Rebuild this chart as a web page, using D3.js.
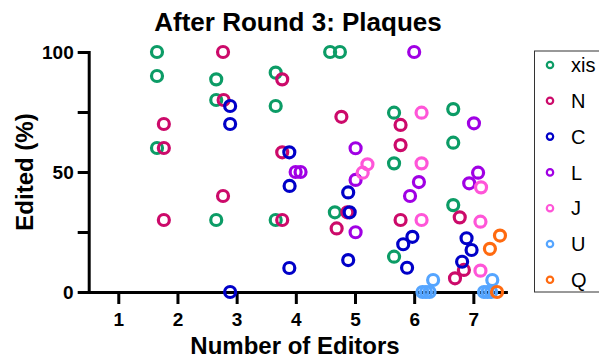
<!DOCTYPE html>
<html>
<head>
<meta charset="utf-8">
<script src="https://cdn.jsdelivr.net/npm/d3@7"></script>
<style>
  html, body { margin: 0; padding: 0; background: #fff; }
  svg { display: block; font-family: "Liberation Sans", Arial, Helvetica, sans-serif; }
</style>
</head>
<body>
<svg id="chart" width="599" height="358"></svg>
<script>
// ---- Data (x = number of editors incl. column offset, y = edited %) ----
const seriesNames = ["xis", "N", "C", "L", "J", "U", "Q"];
const seriesColors = ["#0c9c66", "#cc0a6a", "#0000c8", "#a000e4", "#ff55d8", "#55a5ff", "#ff6a10"];

const xisData = [[1.654,100],[1.654,90],[1.654,60],
  [2.655,88.6],[2.655,80],[2.655,30],
  [3.66,91.4],[3.66,77.5],[3.66,30],
  [4.58,100],[4.745,100],[4.66,33.2],
  [5.66,74.7],[5.66,53.6],[5.66,14.7],
  [6.66,76.2],[6.66,62.2],[6.66,36.2]];
const nData = [[1.77,70],[1.77,60],[1.77,30],
  [2.77,100],[2.78,80],[2.77,40],
  [3.77,88.6],[3.77,58.2],[3.77,30],
  [4.77,73],[4.87,33.2],[4.69,26.5],
  [5.77,69.6],[5.77,61.2],[5.77,30],
  [6.77,31.1],[6.84,9.2],[6.69,5.7]];
const cData = [[2.89,77.5],[2.89,70],[2.89,0],
  [3.89,58.2],[3.895,44.2],[3.89,10],
  [4.885,41.5],[4.91,33.2],[4.885,13.3],
  [5.97,23],[5.815,19.9],[5.88,10.1],
  [6.885,22.4],[6.97,17.5],[6.81,12.6]];
const lData = [[3.997,50],[4.08,50],
  [5.01,59.9],[5.01,46.7],[5.01,24.9],
  [6.0,100],[6.08,45.8],[5.93,40],
  [7.01,70.3],[7.08,49.7],[6.93,45.3]];
const jData = [[5.21,53.2],[5.13,49.7],
  [6.125,74.7],[6.125,53.6],[6.125,30],
  [7.13,43.6],[7.12,29.3],[7.12,8.9]];
const uData = [[6.32,5],[6.14,0],[6.2,0],[6.26,0],
  [7.32,5],[7.18,0],[7.24,0],[7.3,0]];
const qData = [[7.45,23.5],[7.28,18],[7.40,0]];
const allSeries = [xisData, nData, cData, lData, jData, uData, qData];

const xTicks = [1, 2, 3, 4, 5, 6, 7];
const yTicks = [0, 25, 50, 75, 100];
const yLabelTicks = [0, 50, 100];

const titleText = "After Round 3: Plaques";
const xLabelText = "Number of Editors";
const yLabelText = "Edited (%)";

// ---- Drawing ----
const svg = d3.select("#chart");
svg.append("rect").attr("width", 599).attr("height", 358).attr("fill", "#fff");

const x = d3.scaleLinear().domain([0.5, 7.55]).range([88.7, 505.9]);
const y = d3.scaleLinear().domain([0, 100]).range([292, 52]);

// Axes
const xAxis = d3.axisBottom(x).tickValues(xTicks).tickSize(12).tickSizeOuter(0).tickPadding(9)
  .tickFormat(d3.format("d"));
const yAxis = d3.axisLeft(y).tickValues(yTicks).tickSize(11).tickSizeOuter(0).tickPadding(4)
  .tickFormat(d => yLabelTicks.includes(d) ? d : "");

const gx = svg.append("g").attr("transform", `translate(0,${y(0)})`).call(xAxis);
const gy = svg.append("g").attr("transform", `translate(${x(0.5)},0)`).call(yAxis);

[gx, gy].forEach(g => {
  g.select(".domain").attr("stroke", "#000").attr("stroke-width", 3).attr("stroke-linecap", "square");
  g.selectAll(".tick line").attr("stroke", "#000").attr("stroke-width", 3);
  g.selectAll(".tick text").attr("fill", "#000").attr("font-size", 19).attr("font-weight", "bold")
    .attr("font-family", "'Liberation Sans', Arial, sans-serif");
});

// Points
allSeries.forEach((data, i) => {
  svg.append("g").selectAll("circle").data(data).join("circle")
    .attr("cx", d => x(d[0]))
    .attr("cy", d => y(d[1]))
    .attr("r", 5.5)
    .attr("fill", "none")
    .attr("stroke", seriesColors[i])
    .attr("stroke-width", 3.2);
});

// Titles
svg.append("text").attr("x", 298).attr("y", 31).attr("text-anchor", "middle")
  .attr("font-size", 26).attr("font-weight", "bold").text(titleText);
svg.append("text").attr("x", 295).attr("y", 354).attr("text-anchor", "middle")
  .attr("font-size", 24).attr("font-weight", "bold").text(xLabelText);
svg.append("text").attr("transform", "translate(33,172) rotate(-90)").attr("text-anchor", "middle")
  .attr("font-size", 24).attr("font-weight", "bold").text(yLabelText);

// Legend
const lg = svg.append("g");
lg.append("rect").attr("x", 534.5).attr("y", 51).attr("width", 80).attr("height", 241)
  .attr("fill", "none").attr("stroke", "#333").attr("stroke-width", 1);
seriesNames.forEach((name, i) => {
  const cy = 65 + i * 35.8;
  lg.append("circle").attr("cx", 550).attr("cy", cy).attr("r", 3.2)
    .attr("fill", "none").attr("stroke", seriesColors[i]).attr("stroke-width", 2.2);
  lg.append("text").attr("x", 571).attr("y", cy).attr("dy", "0.36em")
    .attr("font-size", 20).attr("fill", "#000").text(name);
});
</script>
</body>
</html>
